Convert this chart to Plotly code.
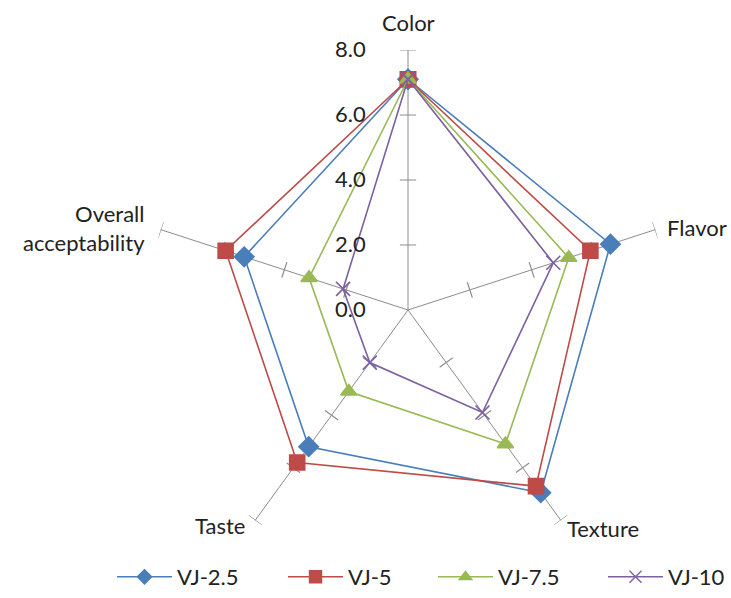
import plotly.graph_objects as go
import math

categories = ["Color", "Flavor", "Texture", "Taste", "Overall<br>acceptability"]
series_names = ["VJ-2.5", "VJ-5", "VJ-7.5", "VJ-10"]
vj_2_5 = [7.1, 6.55, 6.95, 5.2, 5.3]
vj_5 = [7.1, 5.9, 6.7, 5.8, 5.9]
vj_7_5 = [7.1, 5.2, 5.1, 3.1, 3.2]
vj_10 = [7.1, 4.7, 3.9, 2.0, 2.1]
radial_ticks = [0, 2, 4, 6, 8]
radial_labels = ["0.0", "2.0", "4.0", "6.0", "8.0"]

angles = [i * 360 / len(categories) for i in range(len(categories))]
colors = ["#4A7EBB", "#BE4B48", "#98B954", "#7D60A0"]
symbols = ["diamond", "square", "triangle-up", "x-thin-open"]
sizes = [15, 15, 14, 14]
legend_sizes = [11, 12, 11, 12]
all_series = [vj_2_5, vj_5, vj_7_5, vj_10]
legend_ids = ["legend", "legend2", "legend3", "legend4"]
legend_x = [112, 283, 433, 603]

# category label placement (pixels in page, anchor)
label_pos = [(408, 23, "center"), (665, 227, "left"), (565, 528, "left"),
             (247, 525, "right"), (147, 228, "right")]

W, H = 731, 598
FONT = "Lato, Open Sans, sans-serif"

fig = go.Figure()

# cross tick marks on every spoke (Excel style)
half = 0.25
tr, tt = [], []
for a in angles:
    for r in radial_ticks[1:]:
        rr = math.sqrt(r * r + half * half)
        da = math.degrees(math.atan(half / r))
        tr += [rr, rr, None]
        tt += [a - da, a + da, None]
fig.add_trace(go.Scatterpolar(r=tr, theta=tt, mode="lines",
                              line=dict(color="#8C8C8C", width=1.2),
                              showlegend=False, hoverinfo="skip", cliponaxis=False))

for name, vals, c, s, sz in zip(series_names, all_series, colors, symbols, sizes):
    fig.add_trace(go.Scatterpolar(
        r=vals + vals[:1], theta=angles + angles[:1], name=name,
        mode="lines+markers",
        line=dict(color=c, width=1.6),
        marker=dict(symbol=s, size=sz, color=c, line=dict(color=c, width=1.6)),
        cliponaxis=False, showlegend=False,
    ))

# legend entries (smaller symbols, as in the reference legend)
for name, c, s, sz, lg in zip(series_names, colors, symbols, legend_sizes, legend_ids):
    fig.add_trace(go.Scatterpolar(
        r=[None], theta=[None], name=name, mode="lines+markers",
        line=dict(color=c, width=1.6),
        marker=dict(symbol=s, size=sz, color=c, line=dict(color=c, width=1.4)),
        legend=lg, hoverinfo="skip",
    ))

layout_legends = {}
for lg, lx in zip(legend_ids, legend_x):
    layout_legends[lg] = dict(orientation="h", x=lx / W, xanchor="left",
                              y=1 - 577 / H, yanchor="middle",
                              itemwidth=55,
                              font=dict(size=22, family=FONT, color="#222222"),
                              bgcolor="rgba(0,0,0,0)")

annotations = []
for text, (px, py, anchor) in zip(categories, label_pos):
    annotations.append(dict(text=text, x=px / W, y=1 - py / H, xref="paper", yref="paper",
                            xanchor=anchor, yanchor="middle", showarrow=False,
                            align=anchor,
                            font=dict(size=22, family=FONT, color="#222222")))

fig.update_layout(
    width=W, height=H,
    margin=dict(l=0, r=0, t=0, b=0),
    paper_bgcolor="white",
    font=dict(family=FONT, size=22, color="#222222"),
    polar=dict(
        domain=dict(x=[148 / W, 668 / W], y=[1 - 570 / H, 1 - 50 / H]),
        bgcolor="white",
        angularaxis=dict(
            rotation=90, direction="clockwise", thetaunit="degrees",
            tickmode="array", tickvals=angles, ticktext=categories,
            showticklabels=False,
            showgrid=True, gridcolor="#8C8C8C", gridwidth=1.2,
            showline=False, ticks="",
        ),
        radialaxis=dict(
            range=[0, 8], angle=90, tickangle=90,
            tickmode="array", tickvals=radial_ticks, ticktext=radial_labels,
            showgrid=False, showline=False,
            ticks="outside", ticklen=34, tickcolor="rgba(0,0,0,0)",
            side="counterclockwise",
            tickfont=dict(size=22),
        ),
    ),
    annotations=annotations,
    **layout_legends,
)

fig.write_html("out.html", config={"displayModeBar": False},
               post_script="document.body.style.margin='0';document.body.style.overflow='hidden';")
